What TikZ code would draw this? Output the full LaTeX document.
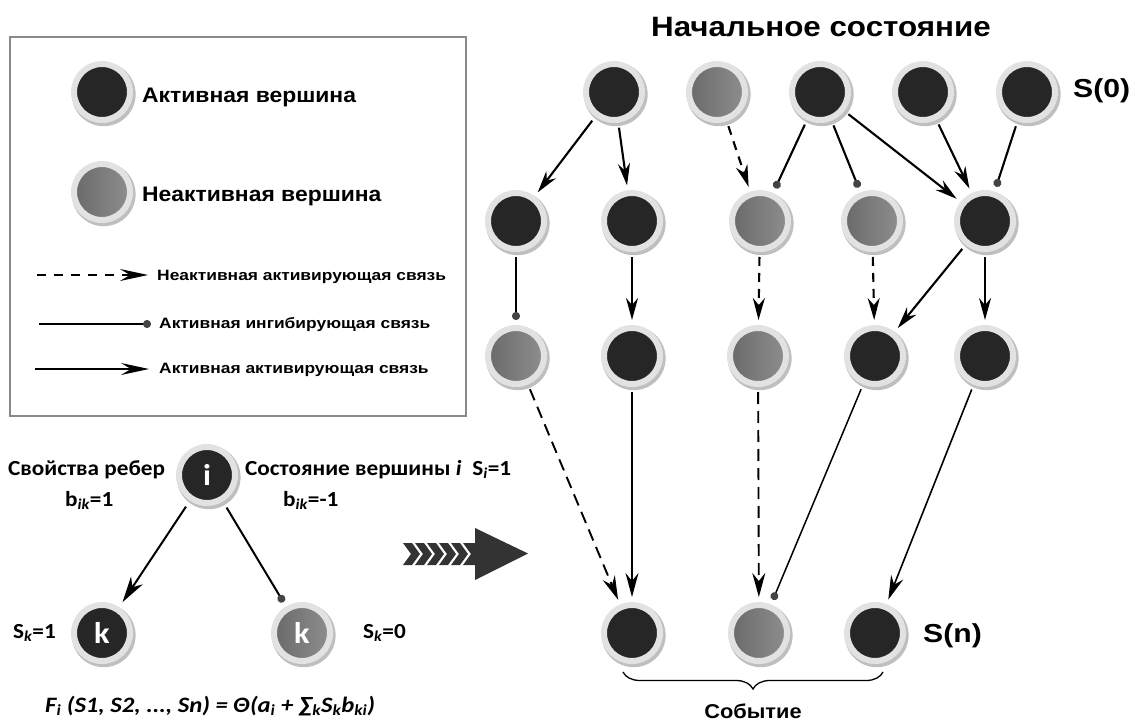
\documentclass[tikz,border=0pt]{standalone}
\usepackage{fontspec}
\setmainfont{Liberation Sans}
\newfontfamily\carl{Carlito}[FakeStretch=1.08]
\newfontfamily\carlw{Carlito}[FakeStretch=1.12]
\newfontfamily\sanstitle{Liberation Sans}[FakeStretch=1.12]
\newfontfamily\sansleg{Liberation Sans}[FakeStretch=1.09]
\newfontfamily\sanssmall{Liberation Sans}[FakeStretch=1.16]
\usetikzlibrary{arrows.meta,shadows,decorations.pathreplacing}
\definecolor{darkc}{HTML}{262626}
\definecolor{ringc}{HTML}{E2E2E2}
\definecolor{greyL}{HTML}{6A6A6A}
\definecolor{greyR}{HTML}{8E8E8E}
\definecolor{dotc}{HTML}{444444}
\definecolor{boxc}{HTML}{8A8A8A}
\definecolor{chevc}{HTML}{333333}
\newcommand{\fsz}[1]{\fontsize{#1}{#1}\selectfont}
\begin{document}
\begin{tikzpicture}[x=1pt,y=-1pt,
  vtx/.style={circle, minimum size=56pt, inner sep=0pt, line width=6pt, draw=ringc,
    drop shadow={shadow xshift=1.5pt, shadow yshift=-2pt, opacity=0.25, shadow scale=1.14, fill=black}},
  act/.style={vtx, fill=darkc},
  inact/.style={vtx, left color=greyL, right color=greyR},
  vlabel/.style={text=white, font=\carl\bfseries\fsz{30}},
  txt/.style={inner sep=0pt, anchor=base west},
  legbig/.style={txt, font=\sansleg\bfseries\fsz{21}},
  legsmall/.style={txt, font=\sanssmall\bfseries\fsz{15}},
  carltxt/.style={txt, font=\carl\bfseries\fsz{21.5}},
  aedge/.style={line width=2.1pt, -{Stealth[length=22pt,width=12pt,inset=7pt]}, shorten <=5pt, shorten >=5pt},
  aedgethin/.style={line width=1.3pt, -{Stealth[length=24pt,width=13pt,inset=8pt]}, shorten <=5pt, shorten >=5pt},
  dedge/.style={aedge, dash pattern=on 9pt off 7pt},
  dedgelow/.style={line width=1.9pt, -{Stealth[length=24pt,width=13pt,inset=8pt]}, dash pattern=on 12pt off 7pt, shorten <=5pt, shorten >=5pt},
  iedge/.style={line width=2.1pt, -{Circle[length=8pt,color=dotc]}, shorten <=5pt, shorten >=5pt},
  iedgelow/.style={line width=1.5pt, -{Circle[length=8pt,color=dotc]}, shorten <=5pt, shorten >=5pt},
]
\useasboundingbox (0,0) rectangle (1135,722);

% ---------- legend ----------
\draw[boxc, line width=1.2pt] (10,37) rectangle (466,416);
\node[act] (la) at (102,92) {};
\node[inact] (li) at (102,192) {};
\node[legbig] (lat) at (142,103) {Активная вершина};
\node[legbig] (lit) at (142,202) {Неактивная вершина};
\coordinate (l1a) at (37,275); \coordinate (l1b) at (148,275);
\coordinate (l2a) at (39,324); \coordinate (l2b) at (151,324);
\coordinate (l3a) at (35,369); \coordinate (l3b) at (149,369);
\draw[line width=2pt, dash pattern=on 9pt off 8pt, -{Stealth[length=28pt,width=12pt,inset=10pt]}] (l1a) -- (l1b);
\draw[line width=1.8pt, -{Circle[length=8pt,color=dotc]}] (l2a) -- (l2b);
\draw[line width=2pt, -{Stealth[length=28pt,width=12pt,inset=10pt]}] (l3a) -- (l3b);
\node[legsmall] (l1t) at (157,280) {Неактивная активирующая связь};
\node[legsmall] (l2t) at (159,328) {Активная ингибирующая связь};
\node[legsmall] (l3t) at (159,373) {Активная активирующая связь};

% ---------- lower left ----------
\node[act] (i) at (207,475) {};
\node[vlabel] at (i) {i};
\node[act] (k1) at (102,633) {};
\node[vlabel] at (k1) {k};
\node[inact] (k2) at (302,633) {};
\node[vlabel] at (k2) {k};
\node[carltxt] (t1) at (8,475) {Свойства ребер};
\node[carltxt] (t2) at (65,506) {b\textsubscript{\itshape ik}=1};
\node[carltxt] (t3) at (245,475) {Состояние вершины \textit{i}\enspace S\textsubscript{\itshape i}=1};
\node[carltxt] (t4) at (283,506) {b\textsubscript{\itshape ik}=-1};
\node[carltxt] (t5) at (13,638) {S\textsubscript{\itshape k}=1};
\node[carltxt] (t6) at (363,638) {S\textsubscript{\itshape k}=0};
\node[txt, font=\carlw\bfseries\itshape\fsz{22}] (t7) at (45,712)
  {F\textsubscript{i} (S1, S2, ..., Sn) = Θ(a\textsubscript{i} + ∑\textsubscript{k}S\textsubscript{k}b\textsubscript{ki})};
\draw[line width=2pt, -{Stealth[length=26pt,width=14pt,inset=8pt]}, shorten <=7pt, shorten >=6pt] (i) -- (k1);
\draw[line width=2pt, -{Circle[length=8pt,color=dotc]}, shorten <=7pt, shorten >=5pt] (i) -- (k2);

% ---------- chevron arrow ----------
\foreach \j in {0,...,4}{
  \pgfmathsetmacro{\xx}{403+12*\j}
  \fill[chevc] (\xx,543) -- (\xx+9,543) -- (\xx+17,554) -- (\xx+9,565) -- (\xx,565) -- (\xx+8,554) -- cycle;
}
\fill[chevc] (463,543) -- (475,543) -- (475,528) -- (528,553.5) -- (475,580) -- (475,565) -- (463,565) -- (471,554) -- cycle;

% ---------- main graph ----------
\node[font=\sanstitle\bfseries\fsz{28}, inner sep=0pt, anchor=base] (title) at (821,37) {Начальное состояние};
\node[act]   (A0) at (614,92) {};
\node[inact] (B0) at (717,92) {};
\node[act]   (C0) at (820,92) {};
\node[act]   (D0) at (923,92) {};
\node[act]   (E0) at (1027,92) {};
\node[txt, font=\sanssmall\bfseries\fsz{26}] (s0) at (1073,98) {S(0)};

\node[act]   (A1) at (516,221) {};
\node[act]   (B1) at (632,221) {};
\node[inact] (C1) at (760,221) {};
\node[inact] (D1) at (872,221) {};
\node[act]   (E1) at (985,221) {};

\node[inact] (A2) at (516,356) {};
\node[act]   (B2) at (632,356) {};
\node[inact] (C2) at (758,356) {};
\node[act]   (D2) at (875,356) {};
\node[act]   (E2) at (985,356) {};

\node[act]   (F) at (632,633) {};
\node[inact] (G) at (759,633) {};
\node[act]   (H) at (875,633) {};
\node[txt, font=\sanssmall\bfseries\fsz{26}] (sn) at (923,642) {S(n)};

\draw[aedge] (A0) -- (A1);
\draw[aedge] (A0) -- (B1);
\draw[dedge] (B0) -- (C1);
\draw[iedge] (C0) -- (C1);
\draw[iedge] (C0) -- (D1);
\draw[aedge] (C0) -- (E1);
\draw[aedge] (D0) -- (E1);
\draw[iedge] (E0) -- (E1);

\draw[iedge] (A1) -- (A2);
\draw[aedge] (B1) -- (B2);
\draw[dedge] (C1) -- (C2);
\draw[dedge] (D1) -- (D2);
\draw[aedge] (E1) -- (D2);
\draw[aedge] (E1) -- (E2);

\draw[dedgelow] (A2) -- (F);
\draw[aedgethin] (B2) -- (F);
\draw[dedgelow] (C2) -- (G);
\draw[iedgelow] (D2) -- (G);
\draw[aedgethin, line width=1.6pt] (E2) -- (H);

\coordinate (br1) at (623,672);
\coordinate (br2) at (883,672);
\draw[line width=1.3pt, decorate, decoration={brace, mirror, amplitude=17pt}] (br1) -- (br2);
\node[font=\sansleg\bfseries\fsz{20}, inner sep=0pt, anchor=base] (ev) at (753,718) {Событие};
\end{tikzpicture}
\end{document}
